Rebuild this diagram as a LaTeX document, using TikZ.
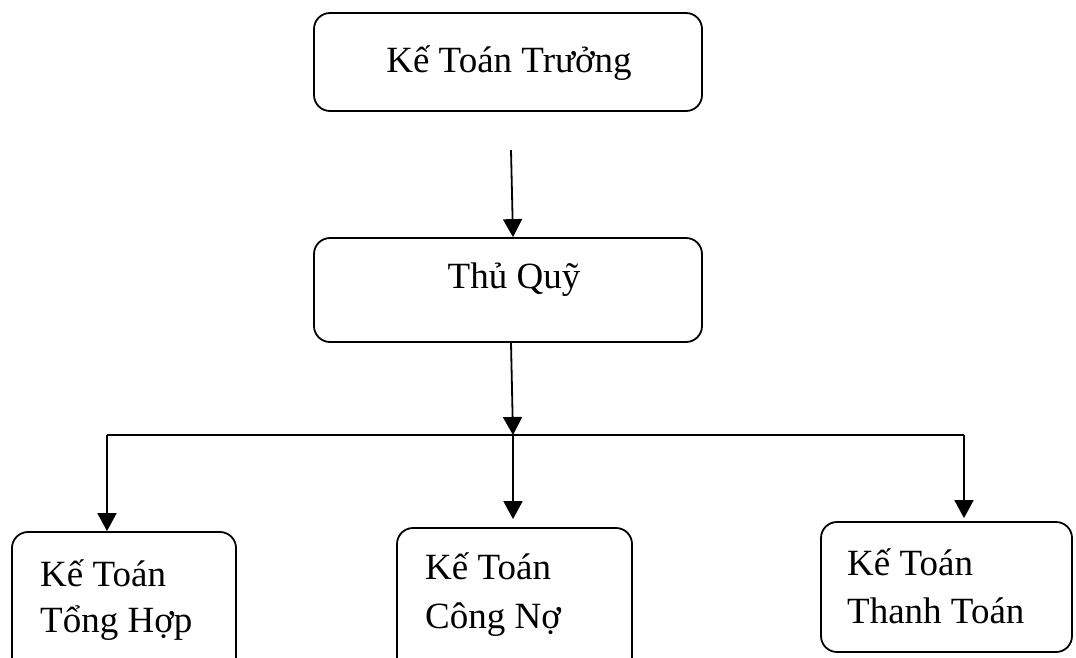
\documentclass[tikz,border=0pt]{standalone}
\usepackage{fontspec}
\setmainfont{Liberation Serif}
\usetikzlibrary{arrows.meta}
\begin{document}
\begin{tikzpicture}[x=1pt,y=-1pt,
  box/.style={draw, line width=1.8pt, rounded corners=16pt, inner sep=0pt},
  lbl/.style={inner sep=0pt, font=\fontsize{37}{44}\selectfont},
  ln/.style={line width=1.8pt},
  arr/.style={line width=1.8pt, -{Triangle[length=18pt,width=19pt]}}]
\useasboundingbox (0,0) rectangle (1076,657);
\clip (0,0) rectangle (1076,657);

% boxes
\node[box, minimum width=388pt, minimum height=98pt]  (ktt) at (508,62) {};
\node[box, minimum width=388pt, minimum height=104pt] (tq)  at (508,290) {};
\node[box, minimum width=224pt, minimum height=170pt] (th)  at (124,617) {};
\node[box, minimum width=235pt, minimum height=174pt] (cn)  at (514.5,615) {};
\node[box, minimum width=251pt, minimum height=130pt] (tt)  at (946.5,587) {};

% labels
\node[lbl, anchor=base] (l1) at (509,72) {Kế Toán Trưởng};
\node[lbl, anchor=base] (l2) at (514,288) {Thủ Quỹ};
\node[lbl, anchor=base west] (l3a) at (40,586) {Kế Toán};
\node[lbl, anchor=base west] (l3b) at (40,632) {Tổng Hợp};
\node[lbl, anchor=base west] (l4a) at (425,579) {Kế Toán};
\node[lbl, anchor=base west] (l4b) at (425,628) {Công Nợ};
\node[lbl, anchor=base west] (l5a) at (847,575) {Kế Toán};
\node[lbl, anchor=base west] (l5b) at (847,623) {Thanh Toán};

% connectors
\coordinate (s1) at (511,150);
\coordinate (j)  at (513,435);
\coordinate (hl) at (107,435);
\coordinate (hr) at (964,435);
\draw[arr] (s1) -- ([xshift=5pt]tq.north);
\draw[arr] ([xshift=3pt]tq.south) -- (j);
\draw[ln] (hl) -- (hr);
\draw[arr] (hl) -- (hl |- th.north);
\draw[arr, shorten >=8pt] (j) -- (j |- cn.north);
\draw[arr, shorten >=3pt] (hr) -- (hr |- tt.north);
\end{tikzpicture}
\end{document}
